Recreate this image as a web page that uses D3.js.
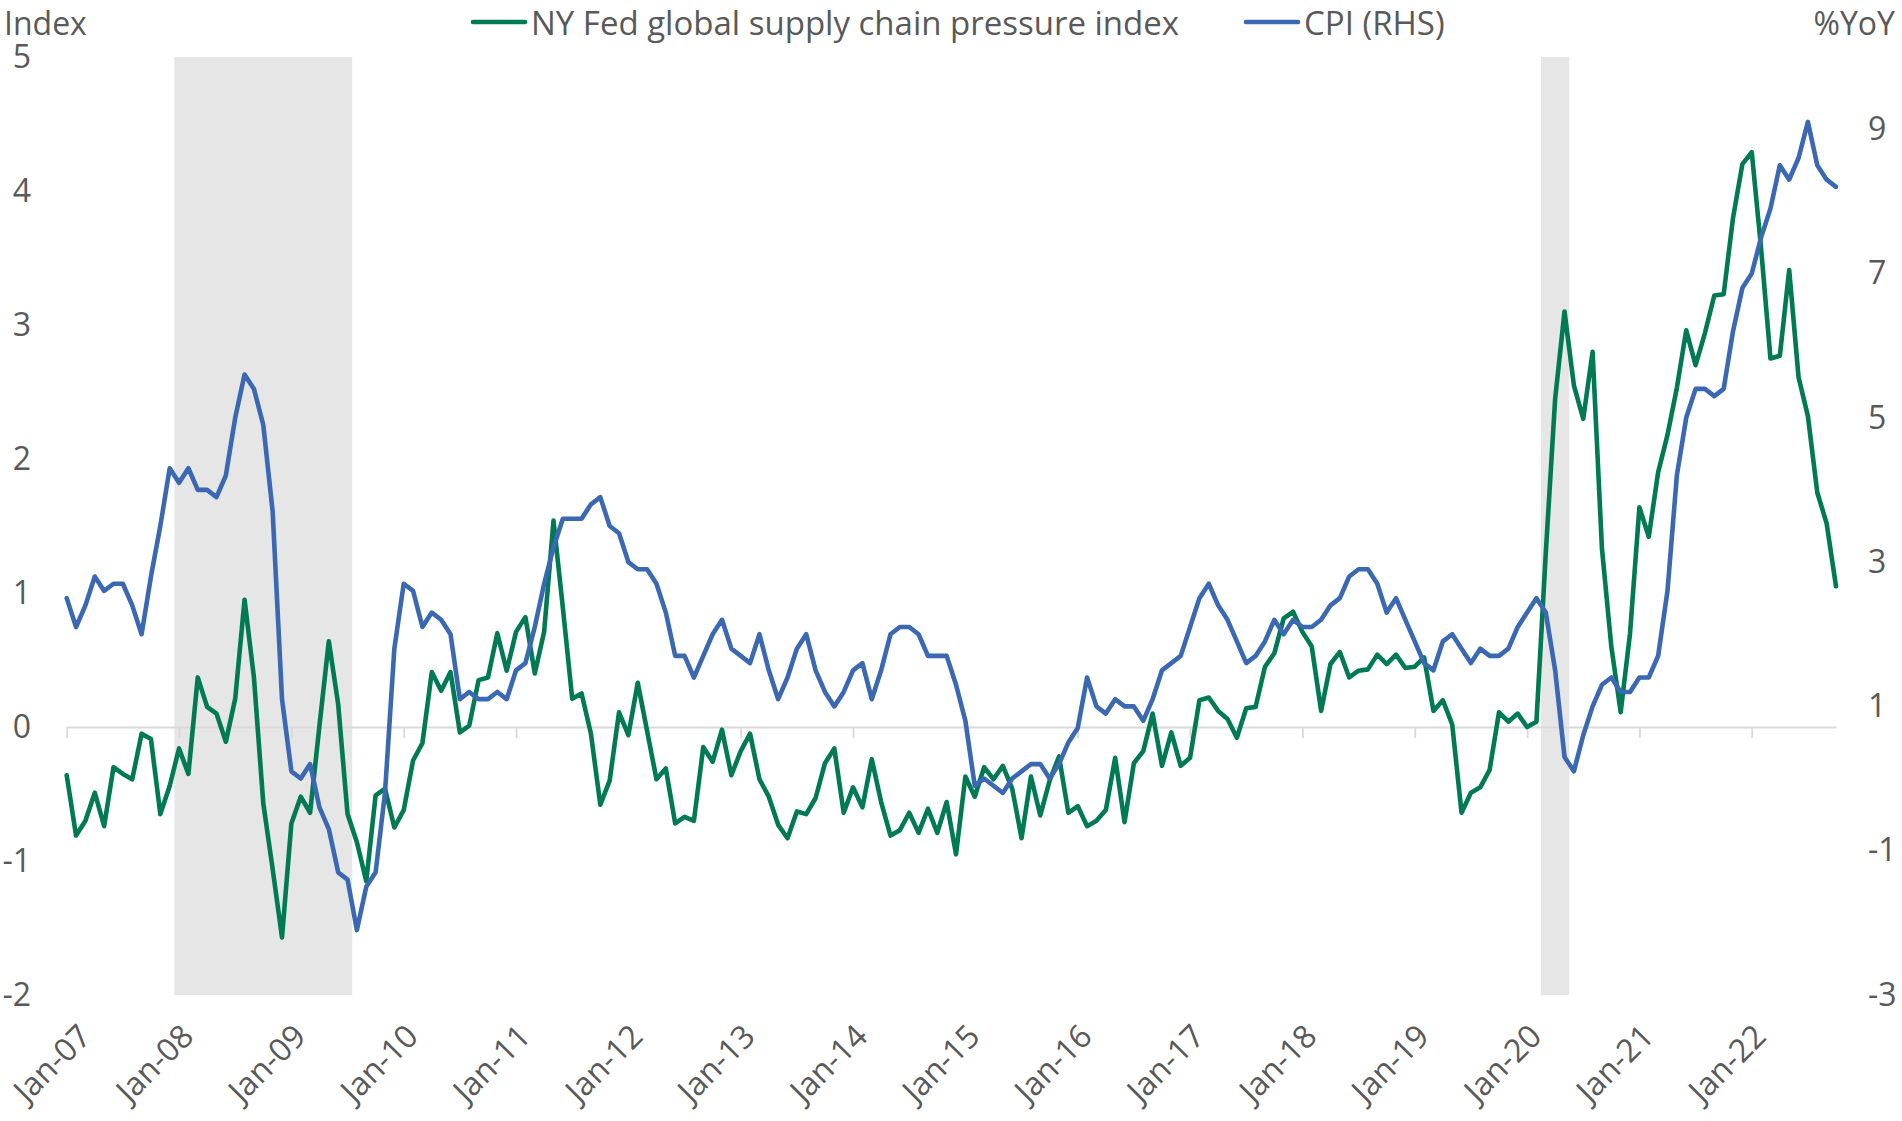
<!DOCTYPE html>
<html><head><meta charset="utf-8">
<script src="https://cdn.jsdelivr.net/npm/d3@7"></script>
<style>
body{margin:0;background:#fff;}
svg{display:block;}
text{font-family:"Open Sans",sans-serif;fill:#595959;}
</style>
</head><body>
<svg id="c" width="1902" height="1121"></svg>
<script>
// Monthly observations, first point = Dec-2006
const startMonth = new Date(2006, 11, 1);
const tickLabels = ["Jan-07","Jan-08","Jan-09","Jan-10","Jan-11","Jan-12","Jan-13","Jan-14","Jan-15","Jan-16","Jan-17","Jan-18","Jan-19","Jan-20","Jan-21","Jan-22"];
const seriesNames = ["NY Fed global supply chain pressure index", "CPI (RHS)"];
const gscpi = [-0.36,
 -0.81,-0.70,-0.49,-0.74,-0.30,-0.35,-0.39,-0.05,-0.09,-0.65,-0.44,-0.16,
 -0.35,0.37,0.15,0.10,-0.11,0.21,0.95,0.37,-0.57,-1.06,-1.57,-0.72,
 -0.52,-0.64,0.01,0.64,0.17,-0.65,-0.86,-1.15,-0.51,-0.46,-0.75,-0.62,
 -0.25,-0.12,0.41,0.27,0.41,-0.04,0.01,0.35,0.37,0.70,0.42,0.71,
 0.82,0.40,0.71,1.54,0.89,0.21,0.25,-0.05,-0.58,-0.40,0.11,-0.06,
 0.33,-0.03,-0.39,-0.31,-0.72,-0.67,-0.70,-0.15,-0.26,-0.02,-0.36,-0.18,
 -0.05,-0.39,-0.52,-0.73,-0.83,-0.63,-0.65,-0.53,-0.27,-0.16,-0.64,-0.45,
 -0.60,-0.24,-0.56,-0.81,-0.77,-0.64,-0.79,-0.61,-0.79,-0.56,-0.95,-0.37,
 -0.52,-0.30,-0.39,-0.29,-0.46,-0.83,-0.37,-0.66,-0.40,-0.22,-0.64,-0.59,
 -0.74,-0.70,-0.62,-0.23,-0.71,-0.27,-0.18,0.10,-0.29,-0.04,-0.29,-0.23,
 0.20,0.22,0.12,0.06,-0.08,0.14,0.15,0.45,0.55,0.81,0.86,0.71,
 0.60,0.12,0.47,0.56,0.37,0.42,0.43,0.54,0.47,0.54,0.44,0.45,
 0.52,0.12,0.20,0.02,-0.64,-0.49,-0.45,-0.32,0.11,0.04,0.10,0.00,
 0.04,1.30,2.45,3.10,2.55,2.30,2.80,1.33,0.60,0.11,0.70,1.64,
 1.42,1.90,2.18,2.53,2.96,2.70,2.94,3.22,3.23,3.80,4.20,4.29,
 3.57,2.75,2.77,3.41,2.61,2.32,1.75,1.52,1.05];
const cpi = [2.5,
 2.1,2.4,2.8,2.6,2.7,2.7,2.4,2.0,2.8,3.5,4.3,4.1,
 4.3,4.0,4.0,3.9,4.2,5.0,5.6,5.4,4.9,3.7,1.1,0.1,
 0.0,0.2,-0.4,-0.7,-1.3,-1.4,-2.1,-1.5,-1.3,-0.2,1.8,2.7,
 2.6,2.1,2.3,2.2,2.0,1.1,1.2,1.1,1.1,1.2,1.1,1.5,
 1.6,2.1,2.7,3.2,3.6,3.6,3.6,3.8,3.9,3.5,3.4,3.0,
 2.9,2.9,2.7,2.3,1.7,1.7,1.4,1.7,2.0,2.2,1.8,1.7,
 1.6,2.0,1.5,1.1,1.4,1.8,2.0,1.5,1.2,1.0,1.2,1.5,
 1.6,1.1,1.5,2.0,2.1,2.1,2.0,1.7,1.7,1.7,1.3,0.8,
 -0.1,0.0,-0.1,-0.2,0.0,0.1,0.2,0.2,0.0,0.2,0.5,0.7,
 1.4,1.0,0.9,1.1,1.0,1.0,0.8,1.1,1.5,1.6,1.7,2.1,
 2.5,2.7,2.4,2.2,1.9,1.6,1.7,1.9,2.2,2.0,2.2,2.1,
 2.1,2.2,2.4,2.5,2.8,2.9,2.9,2.7,2.3,2.5,2.2,1.9,
 1.6,1.5,1.9,2.0,1.8,1.6,1.8,1.7,1.7,1.8,2.1,2.3,
 2.5,2.3,1.5,0.3,0.1,0.6,1.0,1.3,1.4,1.2,1.2,1.4,
 1.4,1.7,2.6,4.2,5.0,5.4,5.4,5.3,5.4,6.2,6.8,7.0,
 7.5,7.9,8.5,8.3,8.6,9.1,8.5,8.3,8.2];
// Recession periods (first month, last month)
const recessions = [[new Date(2007,11,1), new Date(2009,5,1)], [new Date(2020,1,1), new Date(2020,3,1)]];
const leftTicks = [5,4,3,2,1,0,-1,-2];
const rightTicks = [9,7,5,3,1,-1,-3];

const svg = d3.select("#c");
const monthIdx = d => d3.timeMonth.count(startMonth, d);
const n = cpi.length;
const x = d3.scaleLinear().domain([0, n - 1]).range([66.7, 1836]);
const yL = d3.scaleLinear().domain([-2, 5]).range([995, 57]);
const yR = d3.scaleLinear().domain([-3, 10]).range([995, 57]);

// recession shading
svg.append("g").selectAll("rect").data(recessions).join("rect")
  .attr("x", d => x(monthIdx(d[0]) - 0.5))
  .attr("width", d => x(monthIdx(d[1]) + 0.5) - x(monthIdx(d[0]) - 0.5))
  .attr("y", yL(5)).attr("height", yL(-2) - yL(5))
  .attr("fill", "#e6e6e6");

// category axis at zero
const xAxis = d3.axisBottom(x)
  .tickValues(d3.range(0, n, 12))
  .tickFormat("")
  .tickSizeInner(11).tickSizeOuter(0);
const gx = svg.append("g").attr("transform", `translate(0,${yL(0)})`).call(xAxis);
gx.select(".domain").attr("stroke", "#d9d9d9").attr("stroke-width", 1.8);
gx.selectAll(".tick line").attr("stroke", "#d9d9d9").attr("stroke-width", 1.8);

// rotated tick labels (kept inside the left edge)
const tl = svg.append("g").selectAll("text").data(tickLabels).join("text")
  .attr("text-anchor", "end")
  .attr("dy", "0.72em")
  .attr("font-size", 32)
  .text(d => d)
  .each(function(d, i) {
    const el = d3.select(this);
    let tx = x(i * 12);
    el.attr("transform", `translate(${tx},1022) rotate(-45)`);
    const bb = this.getBoundingClientRect();
    if (bb.left < 1) { tx += 1 - bb.left; el.attr("transform", `translate(${tx},1022) rotate(-45)`); }
  });

// left axis
const gl = svg.append("g").attr("transform", "translate(31,0)")
  .call(d3.axisLeft(yL).tickValues(leftTicks).tickSize(0).tickPadding(0).tickFormat(d => String(d)));
gl.select(".domain").remove();
gl.selectAll("text").attr("font-size", 32).attr("font-family", "Open Sans").attr("fill", "#595959");

// right axis
const gr = svg.append("g").attr("transform", "translate(1868,0)")
  .call(d3.axisRight(yR).tickValues(rightTicks).tickSize(0).tickPadding(0).tickFormat(d => String(d)));
gr.select(".domain").remove();
gr.selectAll("text").attr("font-size", 32).attr("font-family", "Open Sans").attr("fill", "#595959");

// lines
const lineL = d3.line().x((d, i) => x(i)).y(d => yL(d));
const lineR = d3.line().x((d, i) => x(i)).y(d => yR(d));
svg.append("path").datum(gscpi).attr("d", lineL)
  .attr("fill", "none").attr("stroke", "#007a53").attr("stroke-width", 4.6)
  .attr("stroke-linejoin", "round").attr("stroke-linecap", "round");
svg.append("path").datum(cpi).attr("d", lineR)
  .attr("fill", "none").attr("stroke", "#3a68b2").attr("stroke-width", 4.6)
  .attr("stroke-linejoin", "round").attr("stroke-linecap", "round");

// axis titles
svg.append("text").attr("x", 4).attr("y", 35).attr("font-size", 32).text("Index");
svg.append("text").attr("x", 1895).attr("y", 35).attr("font-size", 32).attr("text-anchor", "end").text("%YoY");

// legend
const legend = [
  {name: seriesNames[0], color: "#007a53", x0: 473},
  {name: seriesNames[1], color: "#3a68b2", x0: 1246}
];
const lg = svg.append("g").selectAll("g").data(legend).join("g");
lg.append("line").attr("x1", d => d.x0).attr("x2", d => d.x0 + 52)
  .attr("y1", 22).attr("y2", 22).attr("stroke", d => d.color).attr("stroke-width", 4.6)
  .attr("stroke-linecap", "round");
lg.append("text").attr("x", d => d.x0 + 58).attr("y", 35).attr("font-size", 33).text(d => d.name);
</script>
</body></html>
